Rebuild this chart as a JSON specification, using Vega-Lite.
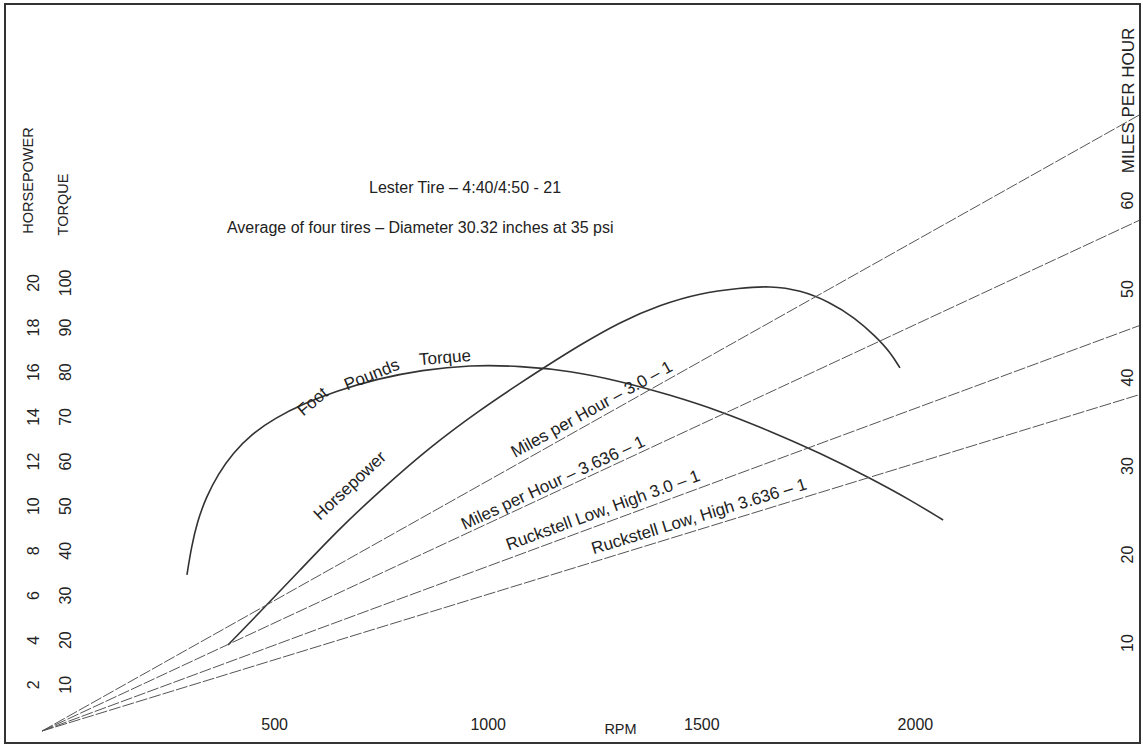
{
  "$schema": "https://vega.github.io/schema/vega-lite/v6.json",
  "width": 1135,
  "height": 739,
  "autosize": {"type": "none"},
  "padding": {"left": 5, "top": 4, "right": 3, "bottom": 2},
  "background": "white",
  "config": {
    "view": {"stroke": "#333", "strokeWidth": 2},
    "font": "Liberation Sans",
    "axis": {
      "domain": false, "ticks": false, "tickSize": 0, "grid": false, "format": "d",
      "labelFont": "Liberation Sans", "labelFontSize": 16, "labelColor": "#222",
      "titleFont": "Liberation Sans", "titleFontSize": 14.5, "titleColor": "#222", "titleFontWeight": "normal"
    },
    "text": {"font": "Liberation Sans", "fontSize": 17, "color": "#222"}
  },
  "datasets": {
    "torque": [
      {"rpm": 296, "torque": 34.5}, {"rpm": 306, "torque": 40.5}, {"rpm": 320, "torque": 46.4},
      {"rpm": 341, "torque": 51.9}, {"rpm": 369, "torque": 57.1}, {"rpm": 404, "torque": 61.8},
      {"rpm": 448, "torque": 66.1}, {"rpm": 502, "torque": 69.6}, {"rpm": 568, "torque": 72.8},
      {"rpm": 647, "torque": 75.7}, {"rpm": 741, "torque": 78.4}, {"rpm": 846, "torque": 80.4},
      {"rpm": 959, "torque": 81.5}, {"rpm": 1076, "torque": 81.3}, {"rpm": 1193, "torque": 80.2},
      {"rpm": 1310, "torque": 77.9}, {"rpm": 1427, "torque": 74.8}, {"rpm": 1544, "torque": 71.2},
      {"rpm": 1661, "torque": 66.7}, {"rpm": 1778, "torque": 61.8}, {"rpm": 1895, "torque": 56.2},
      {"rpm": 1989, "torque": 51.3}, {"rpm": 2066, "torque": 46.8}
    ],
    "hp": [
      {"rpm": 392, "hp": 3.76}, {"rpm": 467, "hp": 5.24}, {"rpm": 561, "hp": 7.12},
      {"rpm": 654, "hp": 9.00}, {"rpm": 755, "hp": 10.79}, {"rpm": 865, "hp": 12.63},
      {"rpm": 982, "hp": 14.29}, {"rpm": 1076, "hp": 15.49}, {"rpm": 1134, "hp": 16.21},
      {"rpm": 1216, "hp": 17.20}, {"rpm": 1310, "hp": 18.23}, {"rpm": 1403, "hp": 18.99},
      {"rpm": 1497, "hp": 19.52}, {"rpm": 1591, "hp": 19.75}, {"rpm": 1661, "hp": 19.84},
      {"rpm": 1731, "hp": 19.66}, {"rpm": 1801, "hp": 19.12}, {"rpm": 1860, "hp": 18.41},
      {"rpm": 1907, "hp": 17.60}, {"rpm": 1942, "hp": 16.88}, {"rpm": 1965, "hp": 16.17}
    ],
    "mph": [
      {"series": "Miles per Hour 3.0-1", "rpm": -43, "mph": 0}, {"series": "Miles per Hour 3.0-1", "rpm": 2525, "mph": 69.6},
      {"series": "Miles per Hour 3.636-1", "rpm": -43, "mph": 0}, {"series": "Miles per Hour 3.636-1", "rpm": 2525, "mph": 57.7},
      {"series": "Ruckstell 3.0-1", "rpm": -43, "mph": 0}, {"series": "Ruckstell 3.0-1", "rpm": 2525, "mph": 45.8},
      {"series": "Ruckstell 3.636-1", "rpm": -43, "mph": 0}, {"series": "Ruckstell 3.636-1", "rpm": 2525, "mph": 38.0}
    ],
    "mphLabels": [
      {"key": "a", "label": "Miles per Hour – 3.0 – 1", "rpm": 1244, "mph": 36.3},
      {"key": "b", "label": "Miles per Hour – 3.636 – 1", "rpm": 1153, "mph": 28.0},
      {"key": "c", "label": "Ruckstell Low, High  3.0 – 1", "rpm": 1270, "mph": 24.9},
      {"key": "d", "label": "Ruckstell Low, High 3.636 – 1", "rpm": 1495, "mph": 24.2}
    ],
    "hpLabels": [
      {"key": "foot", "label": "Foot", "rpm": 591, "hp": 14.64},
      {"key": "pounds", "label": "Pounds", "rpm": 729, "hp": 15.85},
      {"key": "torque", "label": "Torque", "rpm": 900, "hp": 16.61},
      {"key": "horsepower", "label": "Horsepower", "rpm": 678, "hp": 10.88},
      {"key": "title", "label": "Lester Tire – 4:40/4:50 - 21", "rpm": 947, "hp": 24.23},
      {"key": "title", "label": "Average of four tires – Diameter 30.32 inches at 35 psi", "rpm": 842, "hp": 22.44}
    ]
  },
  "layer": [
    {
      "data": {"name": "torque"},
      "mark": {"type": "line", "interpolate": "basis", "color": "#333", "strokeWidth": 1.6},
      "encoding": {
        "x": {"field": "rpm", "type": "quantitative", "scale": {"domain": [-129.9, 2526.9], "nice": false, "zero": false},
          "axis": {"orient": "bottom", "offset": -28, "values": [500, 1000, 1500, 2000], "labelPadding": 9, "labelBaseline": "middle", "labelAlign": "center",
            "title": "RPM", "titleX": 615, "titleY": 14, "titleAlign": "center", "titleBaseline": "middle"}},
        "y": {"field": "torque", "type": "quantitative", "scale": {"domain": [-3.135, 162.34], "nice": false, "zero": false},
          "axis": {"orient": "left", "offset": -67, "values": [10, 20, 30, 40, 50, 60, 70, 80, 90, 100], "labelAngle": -90, "labelAlign": "center", "labelBaseline": "middle", "labelPadding": 7,
            "title": "TORQUE", "titleAngle": -90, "titleX": -9, "titleY": 200, "titleAlign": "center", "titleBaseline": "middle"}}
      }
    },
    {
      "data": {"name": "hp"},
      "mark": {"type": "line", "interpolate": "basis", "color": "#333", "strokeWidth": 1.6},
      "encoding": {
        "x": {"field": "rpm", "type": "quantitative", "scale": {"domain": [-129.9, 2526.9], "nice": false, "zero": false}},
        "y": {"field": "hp", "type": "quantitative", "scale": {"domain": [-0.627, 32.468], "nice": false, "zero": false},
          "axis": {"orient": "left", "offset": -35, "values": [2, 4, 6, 8, 10, 12, 14, 16, 18, 20], "labelAngle": -90, "labelAlign": "center", "labelBaseline": "middle", "labelPadding": 7,
            "title": "HORSEPOWER", "titleAngle": -90, "titleX": -12, "titleY": 176, "titleAlign": "center", "titleBaseline": "middle"}}
      }
    },
    {
      "data": {"name": "mph"},
      "mark": {"type": "line", "color": "#555", "strokeWidth": 1, "strokeDash": [12, 2]},
      "encoding": {
        "x": {"field": "rpm", "type": "quantitative", "scale": {"domain": [-129.9, 2526.9], "nice": false, "zero": false}},
        "y": {"field": "mph", "type": "quantitative", "scale": {"domain": [-1.356, 82.147], "nice": false, "zero": false},
          "axis": {"orient": "right", "offset": -20, "values": [10, 20, 30, 40, 50, 60], "labelAngle": -90, "labelAlign": "center", "labelBaseline": "middle", "labelPadding": 7,
            "title": "MILES PER HOUR", "titleFontSize": 17, "titleAngle": -90, "titleX": 8, "titleY": 96, "titleAlign": "center", "titleBaseline": "middle"}},
        "detail": {"field": "series", "type": "nominal"}
      }
    },
    {
      "data": {"name": "mphLabels"},
      "transform": [{"filter": "datum.key === 'a'"}],
      "mark": {"type": "text", "angle": -29},
      "encoding": {
        "x": {"field": "rpm", "type": "quantitative", "scale": {"domain": [-129.9, 2526.9], "nice": false, "zero": false}},
        "y": {"field": "mph", "type": "quantitative", "scale": {"domain": [-1.356, 82.147], "nice": false, "zero": false}, "axis": null},
        "text": {"field": "label"}
      }
    },
    {
      "data": {"name": "mphLabels"},
      "transform": [{"filter": "datum.key === 'b'"}],
      "mark": {"type": "text", "angle": -25},
      "encoding": {
        "x": {"field": "rpm", "type": "quantitative", "scale": {"domain": [-129.9, 2526.9], "nice": false, "zero": false}},
        "y": {"field": "mph", "type": "quantitative", "scale": {"domain": [-1.356, 82.147], "nice": false, "zero": false}, "axis": null},
        "text": {"field": "label"}
      }
    },
    {
      "data": {"name": "mphLabels"},
      "transform": [{"filter": "datum.key === 'c'"}],
      "mark": {"type": "text", "angle": -20},
      "encoding": {
        "x": {"field": "rpm", "type": "quantitative", "scale": {"domain": [-129.9, 2526.9], "nice": false, "zero": false}},
        "y": {"field": "mph", "type": "quantitative", "scale": {"domain": [-1.356, 82.147], "nice": false, "zero": false}, "axis": null},
        "text": {"field": "label"}
      }
    },
    {
      "data": {"name": "mphLabels"},
      "transform": [{"filter": "datum.key === 'd'"}],
      "mark": {"type": "text", "angle": -17},
      "encoding": {
        "x": {"field": "rpm", "type": "quantitative", "scale": {"domain": [-129.9, 2526.9], "nice": false, "zero": false}},
        "y": {"field": "mph", "type": "quantitative", "scale": {"domain": [-1.356, 82.147], "nice": false, "zero": false}, "axis": null},
        "text": {"field": "label"}
      }
    },
    {
      "data": {"name": "hpLabels"},
      "transform": [{"filter": "datum.key === 'foot'"}],
      "mark": {"type": "text", "angle": -40},
      "encoding": {
        "x": {"field": "rpm", "type": "quantitative", "scale": {"domain": [-129.9, 2526.9], "nice": false, "zero": false}},
        "y": {"field": "hp", "type": "quantitative", "scale": {"domain": [-0.627, 32.468], "nice": false, "zero": false}, "axis": null},
        "text": {"field": "label"}
      }
    },
    {
      "data": {"name": "hpLabels"},
      "transform": [{"filter": "datum.key === 'pounds'"}],
      "mark": {"type": "text", "angle": -22},
      "encoding": {
        "x": {"field": "rpm", "type": "quantitative", "scale": {"domain": [-129.9, 2526.9], "nice": false, "zero": false}},
        "y": {"field": "hp", "type": "quantitative", "scale": {"domain": [-0.627, 32.468], "nice": false, "zero": false}, "axis": null},
        "text": {"field": "label"}
      }
    },
    {
      "data": {"name": "hpLabels"},
      "transform": [{"filter": "datum.key === 'torque'"}],
      "mark": {"type": "text", "angle": -5},
      "encoding": {
        "x": {"field": "rpm", "type": "quantitative", "scale": {"domain": [-129.9, 2526.9], "nice": false, "zero": false}},
        "y": {"field": "hp", "type": "quantitative", "scale": {"domain": [-0.627, 32.468], "nice": false, "zero": false}, "axis": null},
        "text": {"field": "label"}
      }
    },
    {
      "data": {"name": "hpLabels"},
      "transform": [{"filter": "datum.key === 'horsepower'"}],
      "mark": {"type": "text", "angle": -43},
      "encoding": {
        "x": {"field": "rpm", "type": "quantitative", "scale": {"domain": [-129.9, 2526.9], "nice": false, "zero": false}},
        "y": {"field": "hp", "type": "quantitative", "scale": {"domain": [-0.627, 32.468], "nice": false, "zero": false}, "axis": null},
        "text": {"field": "label"}
      }
    },
    {
      "data": {"name": "hpLabels"},
      "transform": [{"filter": "datum.key === 'title'"}],
      "mark": {"type": "text", "angle": 0, "fontSize": 16},
      "encoding": {
        "x": {"field": "rpm", "type": "quantitative", "scale": {"domain": [-129.9, 2526.9], "nice": false, "zero": false}},
        "y": {"field": "hp", "type": "quantitative", "scale": {"domain": [-0.627, 32.468], "nice": false, "zero": false}, "axis": null},
        "text": {"field": "label"}
      }
    }
  ],
  "resolve": {"scale": {"y": "independent"}, "axis": {"y": "independent"}}
}
